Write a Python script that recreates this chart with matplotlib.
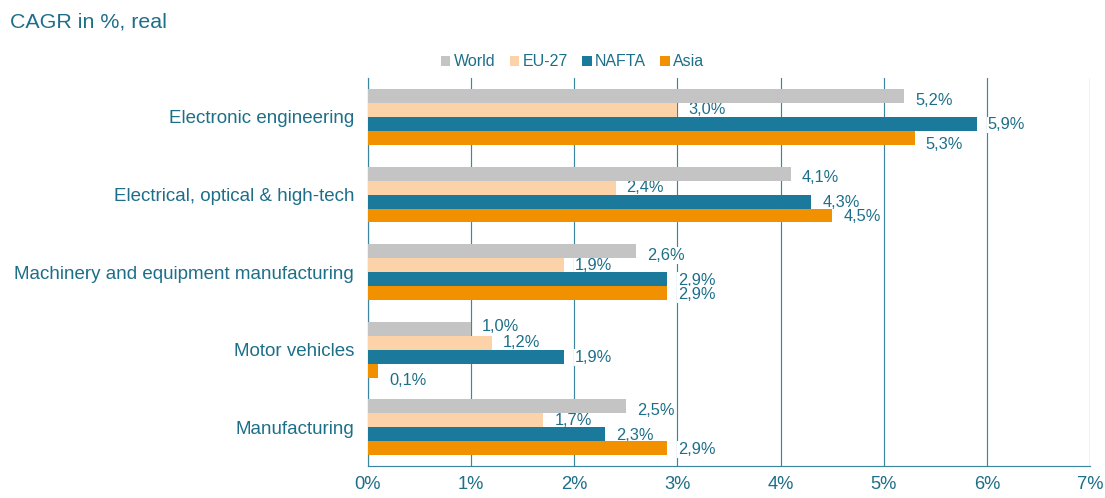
import matplotlib
matplotlib.use('Agg')
import matplotlib.pyplot as plt
import numpy as np

plt.rcParams['font.family'] = ['Liberation Sans', 'DejaVu Sans']

categories = ['Electronic engineering', 'Electrical, optical & high-tech',
              'Machinery and equipment manufacturing', 'Motor vehicles', 'Manufacturing']
series = ['World', 'EU-27', 'NAFTA', 'Asia']
world = [5.2, 4.1, 2.6, 1.0, 2.5]
eu27 = [3.0, 2.4, 1.9, 1.2, 1.7]
nafta = [5.9, 4.3, 2.9, 1.9, 2.3]
asia = [5.3, 4.5, 2.9, 0.1, 2.9]
ticks = [0, 1, 2, 3, 4, 5, 6, 7]

colors = ['#c4c4c4', '#fcd3a8', '#1b7a9c', '#f29100']
teal = '#1d6f89'
grid_col = '#3d86a0'

fig = plt.figure(figsize=(11.05, 4.98), dpi=100)
ax = fig.add_axes([0.333, 0.0642, 0.6534, 0.7788])

h = 0.18
ypos = np.arange(len(categories))[::-1]
offsets = [1.5 * h, 0.5 * h, -0.5 * h, -1.5 * h]
label_dy = [-3, 0, -0.7, -1]
# a few labels sit a little differently in the original (Excel auto placement)
nudge = {('World', 'Motor vehicles'): 4.5, ('Asia', 'Motor vehicles'): -6,
         ('Asia', 'Electronic engineering'): -4}

for vals, name, col, off, dy in zip([world, eu27, nafta, asia], series, colors, offsets, label_dy):
    ax.barh(ypos + off, vals, height=h, color=col, label=name, zorder=3)
    for cat, y, v in zip(categories, ypos + off, vals):
        d = dy + nudge.get((name, cat), 0)
        ax.annotate(f'{v:.1f}%'.replace('.', ','), (v, y), xytext=(8, d),
                    textcoords='offset points', va='center', ha='left',
                    fontsize=11.8, color=teal, zorder=2.5,
                    bbox=dict(boxstyle='square,pad=0.05', fc='white', ec='none'))

ax.set_xlim(0, 7)
ax.set_ylim(-0.5, 4.5)
ax.set_xticks(ticks)
ax.set_xticklabels([f'{t}%' for t in ticks])
ax.set_yticks(ypos)
ax.set_yticklabels(categories)
ax.tick_params(length=0, colors=teal)
ax.tick_params(axis='x', pad=7, labelsize=13.2)
ax.tick_params(axis='y', pad=10, labelsize=13.5)
ax.grid(axis='x', color=grid_col, linewidth=0.85, zorder=0)
ax.set_axisbelow(True)
for s in ['top', 'right']:
    ax.spines[s].set_visible(False)
for s in ['left', 'bottom']:
    ax.spines[s].set_color(grid_col)
    ax.spines[s].set_linewidth(0.85)

fig.text(0.009, 0.955, 'CAGR in %, real', fontsize=15.4, color=teal, ha='left', va='center')

fig.legend(loc='center', bbox_to_anchor=(0.518, 0.876), ncol=4, frameon=False,
           handlelength=0.6, handleheight=0.6, handletextpad=0.2, columnspacing=0.9,
           fontsize=11.5, labelcolor=teal)

fig.savefig('out.png', dpi=100)
